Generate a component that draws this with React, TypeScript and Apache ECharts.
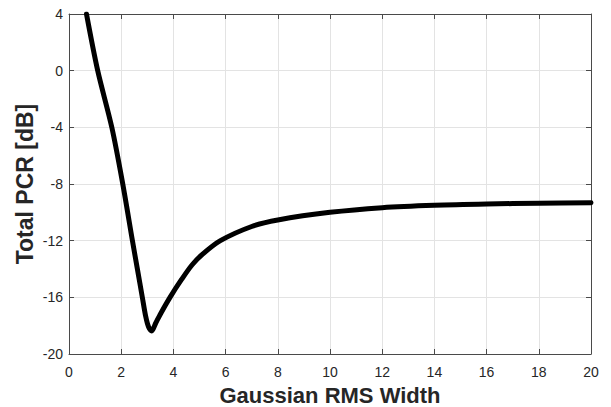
import React, { useEffect, useRef } from "react";
import * as echarts from "echarts";

// Gaussian RMS width (x) and total PCR in dB (y)
const rmsWidth = [
  0.67, 1.1, 1.64, 2.06, 2.43, 2.62, 2.81, 2.94, 3.05, 3.17, 3.32, 3.52, 3.87, 4.32, 4.72,
  5.12, 5.8, 7.0, 8.0, 10.0, 12.0, 14.0, 16.0, 18.0, 20.0,
];
const totalPcrDb = [
  4.0, 0.0, -4.0, -8.0, -12.0, -14.0, -16.0, -17.36, -18.1, -18.37, -17.83, -17.12, -16.0,
  -14.72, -13.7, -12.95, -12.0, -11.0, -10.54, -10.0, -9.67, -9.5, -9.41, -9.36, -9.32,
];

const xTicks = { min: 0, max: 20, interval: 2 };
const yTicks = { min: -20, max: 4, interval: 4 };

const FONT = "'Liberation Sans', Arial, Helvetica, sans-serif";
const AXIS_COLOR = "#4a4a4a";
const LABEL_COLOR = "#262626";
const GRID_COLOR = "#e3e3e3";

export default function App() {
  const ref = useRef<HTMLDivElement>(null);

  useEffect(() => {
    if (!ref.current) return;
    const chart = echarts.init(ref.current, undefined, { renderer: "svg" });

    const frameAxis = {
      axisLine: { show: true, onZero: false, lineStyle: { color: AXIS_COLOR, width: 1 } },
      axisTick: { show: true, inside: true, length: 5, lineStyle: { color: AXIS_COLOR } },
    };

    chart.setOption({
      animation: false,
      backgroundColor: "#ffffff",
      grid: { left: 69, right: 20, top: 14, bottom: 53 },
      xAxis: [
        {
          type: "value",
          position: "bottom",
          ...xTicks,
          ...frameAxis,
          axisLabel: { color: LABEL_COLOR, fontSize: 14, fontFamily: FONT, margin: 11 },
          splitLine: { show: true, lineStyle: { color: GRID_COLOR, width: 1 } },
        },
        {
          type: "value",
          position: "top",
          ...xTicks,
          ...frameAxis,
          axisLabel: { show: false },
          splitLine: { show: false },
        },
      ],
      yAxis: [
        {
          type: "value",
          position: "left",
          ...yTicks,
          ...frameAxis,
          axisLabel: { color: LABEL_COLOR, fontSize: 14, fontFamily: FONT, margin: 6 },
          splitLine: { show: true, lineStyle: { color: GRID_COLOR, width: 1 } },
        },
        {
          type: "value",
          position: "right",
          ...yTicks,
          ...frameAxis,
          axisLabel: { show: false },
          splitLine: { show: false },
        },
      ],
      graphic: [
        {
          type: "text",
          x: 330,
          y: 395,
          style: {
            text: "Gaussian RMS Width",
            font: `bold 22px ${FONT}`,
            fill: LABEL_COLOR,
            align: "center",
            verticalAlign: "middle",
          },
        },
        {
          type: "text",
          x: 25,
          y: 184,
          rotation: Math.PI / 2,
          style: {
            text: "Total PCR [dB]",
            font: `bold 23px ${FONT}`,
            fill: LABEL_COLOR,
            align: "center",
            verticalAlign: "middle",
          },
        },
      ],
      series: [
        {
          type: "line",
          xAxisIndex: 0,
          yAxisIndex: 0,
          data: rmsWidth.map((x, i) => [x, totalPcrDb[i]]),
          showSymbol: false,
          smooth: 0.3,
          clip: true,
          lineStyle: { color: "#000000", width: 5, cap: "round", join: "round" },
        },
      ],
    });

    return () => chart.dispose();
  }, []);

  return (
    <div
      ref={ref}
      style={{ position: "absolute", left: 0, top: 0, width: 611, height: 407 }}
    />
  );
}
